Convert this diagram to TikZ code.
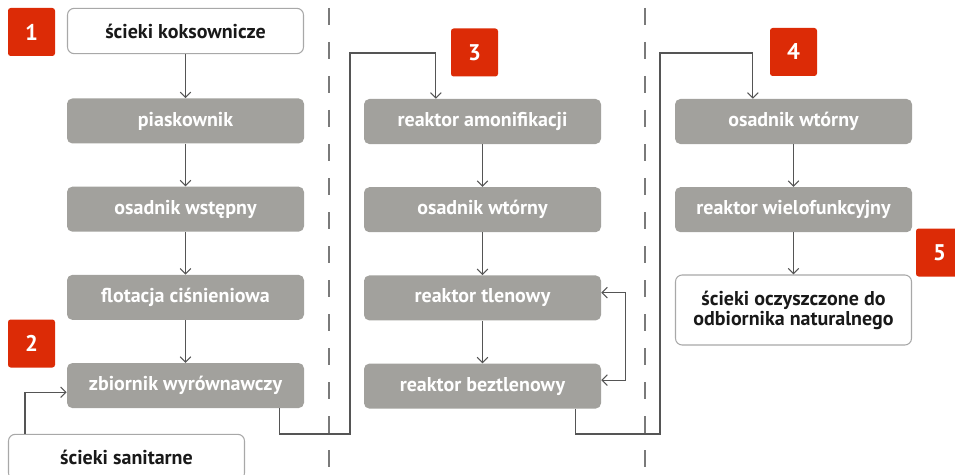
\documentclass[tikz,border=0pt]{standalone}
\usepackage{fontspec}
\setmainfont{PT Sans}
\usepackage{tikz}
\usetikzlibrary{positioning,arrows.meta}
\usepackage{xcolor}

\definecolor{stagegray}{HTML}{A2A19D}
\definecolor{framegray}{HTML}{A8A8A8}
\definecolor{tagred}{HTML}{DC2B06}
\definecolor{linegray}{HTML}{555555}
\definecolor{dashgray}{HTML}{7A7A7A}

\begin{document}
\begin{tikzpicture}[
    x=0.75pt, y=-0.75pt,
    node distance=32pt,
    stage/.style={rectangle, rounded corners=4pt, fill=stagegray, text=white, font=\bfseries\fontsize{15}{15}\selectfont, minimum width=177.75pt, minimum height=33.75pt, inner sep=1pt},
    io/.style={rectangle, rounded corners=5pt, draw=framegray, line width=0.8pt, fill=white, text=black!90, font=\bfseries\fontsize{15}{15}\selectfont, minimum width=177pt, minimum height=34pt, align=center},
    tag/.style={rectangle, rounded corners=2pt, fill=tagred, text=white, font=\bfseries\fontsize{17}{18}\selectfont, minimum width=35.25pt, minimum height=36pt},
    flow/.style={-{Straight Barb[length=4pt,width=8pt]}, draw=linegray, line width=0.8pt},
    divider/.style={draw=dashgray, line width=1.5pt, dash pattern=on 12.75pt off 12.75pt}
]
    \clip (0,0) rectangle (955,474);

    % separators
    \draw[divider] (329,8) -- (329,474);
    \draw[divider] (645,8) -- (645,474);

    % column 1
    \node[io] (koks) at (185.5,31) {ścieki koksownicze};
    \node[stage, below=33pt of koks] (pias) {piaskownik};
    \node[stage, below=of pias] (wstep) {osadnik wstępny};
    \node[stage, below=of wstep] (flot) {flotacja ciśnieniowa};
    \node[stage, below=of flot] (zbior) {zbiornik wyrównawczy};
    \node[io] (sanit) at (126.5,457) {ścieki sanitarne};

    % column 2
    \node[stage] (amon) at (482.5,121.5) {reaktor amonifikacji};
    \node[stage, below=of amon] (wtor) {osadnik wtórny};
    \node[stage, below=of wtor] (tlen) {reaktor tlenowy};
    \node[stage, below=of tlen] (bezt) {reaktor beztlenowy};

    % column 3
    \node[stage] (wtor2) at (793.5,121.5) {osadnik wtórny};
    \node[stage, below=of wtor2] (wielo) {reaktor wielofunkcyjny};
    \node[io, minimum height=52.5pt] (odb) at (793.5,310) {ścieki oczyszczone do\\odbiornika naturalnego};

    % numbers
    \node[tag] (t1) at (31.5,32) {1};
    \node[tag] (t2) at (31.5,343.5) {2};
    \node[tag] (t3) at (474.5,52.5) {3};
    \node[tag] (t4) at (793.5,52) {4};
    \node[tag] (t5) at (939.5,252.5) {5};

    % flows
    \draw[flow] (koks) -- (pias);
    \draw[flow] (pias) -- (wstep);
    \draw[flow] (wstep) -- (flot);
    \draw[flow] (flot) -- (zbior);
    \draw[flow] ([xshift=12.75pt]sanit.north west) |- ([yshift=-5pt]zbior.west);
    \draw[flow] ([xshift=-18.75pt]zbior.south east) |- (350,434) -- (350,53) -| ([xshift=-35pt]amon.north);
    \draw[flow] (amon) -- (wtor);
    \draw[flow] (wtor) -- (tlen);
    \draw[flow] (tlen) -- (bezt);
    \draw[flow, {Straight Barb[length=4pt,width=8pt]}-{Straight Barb[length=4pt,width=8pt]}] ([yshift=4pt]tlen.east) -- ++(18pt,0) |- ([yshift=4.5pt]bezt.east);
    \draw[flow] ([xshift=-19.5pt]bezt.south east) |- (660,434) -- (660,53) -| ([xshift=-30.5pt]wtor2.north);
    \draw[flow] (wtor2) -- (wielo);
    \draw[flow] (wielo) -- (odb);
\end{tikzpicture}
\end{document}
